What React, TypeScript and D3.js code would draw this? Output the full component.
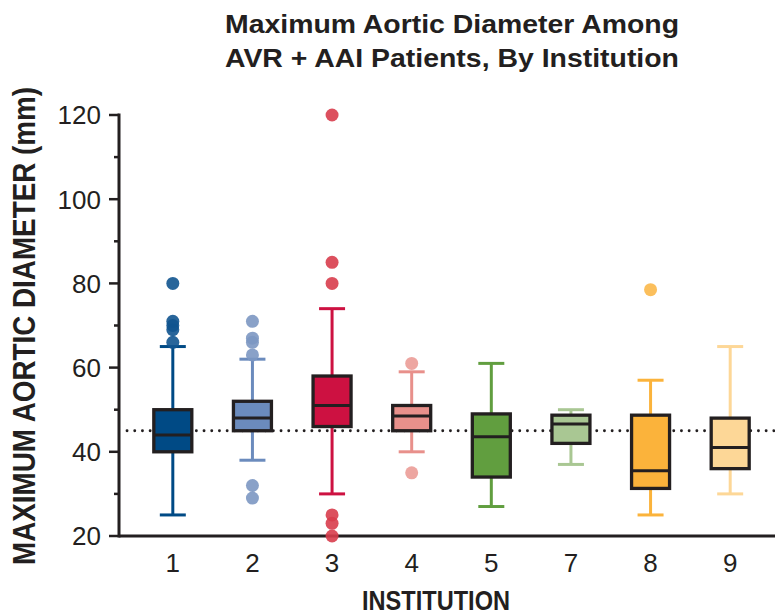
import React from "react";
import * as d3 from "d3";

const institutions = ["1", "2", "3", "4", "5", "7", "8", "9"];
const whiskerLow = [25, 38, 30, 40, 27, 37, 25, 30];
const q1 = [40, 45, 46, 45, 34, 42, 31.3, 36];
const median = [44, 48, 51, 48.5, 43.6, 46.6, 35.5, 41];
const q3 = [50, 52, 58, 51, 49, 48.7, 48.7, 48];
const whiskerHigh = [65, 62, 74, 59, 61, 50, 57, 65];
const outliers = [
  [66, 69, 70, 71, 80],
  [29, 32, 63, 66, 67, 71],
  [20, 23, 25, 80, 85, 120],
  [35, 61],
  [],
  [],
  [78.5],
  [],
];
const colors = ["#004a85", "#6b8bbd", "#cd1141", "#e8908b", "#619e3f", "#a9c793", "#fbb33b", "#fdd797"];
const outlierColors = ["#11548f", "#7c97c2", "#d83d4d", "#eb9c97", "#619e3f", "#a9c793", "#fbb84a", "#fdd797"];
const referenceValue = 45;
const majorTicks = [20, 40, 60, 80, 100, 120];
const minorTicks = [30, 50, 70, 90, 110];
const titleLines = ["Maximum Aortic Diameter Among", "AVR + AAI Patients, By Institution"];
const yTitle = "MAXIMUM AORTIC DIAMETER (mm)";
const xTitle = "INSTITUTION";

export default function App() {
  const W = 775;
  const H = 616;
  const axisX = 119;
  const y = d3.scaleLinear().domain([20, 120]).range([536, 115]);
  const x = d3.scaleBand().domain(institutions).range([133, 770]).padding(0);
  const boxW = 38;
  const capW = 26;
  const ink = "#231f20";
  const font = "'Liberation Sans', Arial, Helvetica, sans-serif";

  return (
    <svg width={W} height={H} style={{ position: "absolute", left: 0, top: 0, background: "#fff" }}>
      {titleLines.map((t, i) => (
        <text key={i} x={452} y={33 + i * 34} textAnchor="middle" fontFamily={font} fontWeight="bold" fontSize={26}
          fill={ink} textLength={454} lengthAdjust="spacingAndGlyphs">{t}</text>
      ))}
      <text transform={`translate(35,${326}) rotate(-90)`} textAnchor="middle" fontFamily={font} fontWeight="bold"
        fontSize={31} fill={ink} textLength={478} lengthAdjust="spacingAndGlyphs">{yTitle}</text>
      <text x={436} y={610} textAnchor="middle" fontFamily={font} fontWeight="bold" fontSize={28} fill={ink}
        textLength={148} lengthAdjust="spacingAndGlyphs">{xTitle}</text>

      <line x1={127} x2={W} y1={y(referenceValue)} y2={y(referenceValue)} stroke={ink} strokeWidth={2.8}
        strokeDasharray="0.1,7.6" strokeLinecap="round" />

      {institutions.map((inst, i) => {
        const cx = (x(inst) as number) + x.bandwidth() / 2;
        const c = colors[i];
        return (
          <g key={inst}>
            <line x1={cx} x2={cx} y1={y(whiskerHigh[i])} y2={y(whiskerLow[i])} stroke={c} strokeWidth={3} />
            <line x1={cx - capW / 2} x2={cx + capW / 2} y1={y(whiskerHigh[i])} y2={y(whiskerHigh[i])} stroke={c} strokeWidth={3} />
            <line x1={cx - capW / 2} x2={cx + capW / 2} y1={y(whiskerLow[i])} y2={y(whiskerLow[i])} stroke={c} strokeWidth={3} />
            <rect x={cx - boxW / 2} y={y(q3[i])} width={boxW} height={y(q1[i]) - y(q3[i])} fill={c} stroke={ink} strokeWidth={3.3} />
            <line x1={cx - boxW / 2} x2={cx + boxW / 2} y1={y(median[i])} y2={y(median[i])} stroke={ink} strokeWidth={3} />
          </g>
        );
      })}

      <line x1={axisX} x2={axisX} y1={y(120) - 1.5} y2={y(20) + 1.5} stroke={ink} strokeWidth={3} />
      <line x1={axisX} x2={W} y1={y(20)} y2={y(20)} stroke={ink} strokeWidth={3} />
      {majorTicks.map((t) => (
        <g key={t}>
          <line x1={axisX - 10} x2={axisX} y1={y(t)} y2={y(t)} stroke={ink} strokeWidth={2.5} />
          <text x={101} y={y(t)} dy="0.36em" textAnchor="end" fontFamily={font} fontSize={26} fill={ink}>{t}</text>
        </g>
      ))}
      {minorTicks.map((t) => (
        <line key={t} x1={axisX - 5} x2={axisX} y1={y(t)} y2={y(t)} stroke={ink} strokeWidth={2.5} />
      ))}
      {institutions.map((inst) => (
        <text key={inst} x={(x(inst) as number) + x.bandwidth() / 2} y={572} textAnchor="middle" fontFamily={font}
          fontSize={26} fill={ink}>{inst}</text>
      ))}

      {institutions.map((inst, i) => {
        const cx = (x(inst) as number) + x.bandwidth() / 2;
        return outliers[i].map((v, j) => (
          <circle key={`${inst}-${j}`} cx={cx} cy={y(v)} r={6.5} fill={outlierColors[i]} fillOpacity={0.9} />
        ));
      })}
    </svg>
  );
}
